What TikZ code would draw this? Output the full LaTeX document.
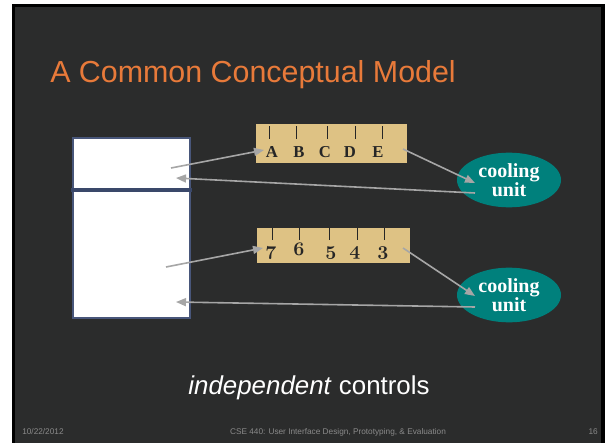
\documentclass[tikz,border=0pt]{standalone}
\usepackage{fontspec}
\newfontfamily\slidesans{Liberation Sans}
\newfontfamily\slideserif{Liberation Serif}
\usetikzlibrary{arrows.meta,shapes.geometric}
\definecolor{slidebg}{RGB}{43,44,44}
\definecolor{titleorange}{RGB}{232,122,58}
\definecolor{dialtan}{RGB}{222,194,132}
\definecolor{coolteal}{RGB}{0,128,124}
\definecolor{fridgeblue}{RGB}{72,86,122}
\definecolor{dividerblue}{RGB}{58,72,106}
\definecolor{linkgray}{RGB}{166,166,166}
\definecolor{footgray}{RGB}{138,138,138}
\tikzset{
  link/.style={draw=linkgray, line width=1.2pt, -{Triangle[length=7.5pt,width=6pt]}},
  dial/.style={fill=dialtan, draw=none, inner sep=0pt},
  tick/.style={draw=black!85, line width=0.75pt},
  dialtext/.style={anchor=base, inner sep=0pt, text=black!85, font=\slideserif\bfseries\fontsize{12.5}{12.5}\selectfont},
  dialnum/.style={anchor=base, inner sep=0pt, text=black!85, font=\usefont{OML}{cmm}{b}{it}\fontsize{15}{15}\selectfont},
  cooler/.style={ellipse, fill=coolteal, minimum width=78pt, minimum height=41pt, inner sep=0pt,
    align=center, text=white, font=\slideserif\bfseries\fontsize{15}{14.6}\selectfont},
  foot/.style={anchor=base, inner sep=0pt, text=footgray, font=\slidesans\fontsize{6.2}{7}\selectfont}
}
\begin{document}
\begin{tikzpicture}[x=0.75pt,y=0.75pt,yscale=-1,xscale=1]
\useasboundingbox (0,0) rectangle (608,443);
% slide frame
\fill[white] (0,0) rectangle (608,443);
\fill[black] (12,4) rectangle (605,443);
\fill[slidebg] (15,7) rectangle (601,443);
% Title
\node[anchor=base west, inner sep=0pt, text=titleorange, font=\slidesans\fontsize{22.8}{26}\selectfont] (title) at (50,82) {A Common Conceptual Model};
% Fridge body and freezer divider
\draw[fill=white, draw=fridgeblue, line width=1.2pt] (73,138) rectangle (190,318);
\draw[dividerblue, line width=2.4pt] (71,190) -- (192,190);
\coordinate (freezerout) at (171,168);
\coordinate (freezerin) at (176,178);
\coordinate (fridgeout) at (166,267);
\coordinate (fridgein) at (176,302);
% Dial with letters
\node[dial, minimum width=113.25pt, minimum height=29.25pt] (letters) at (331.5,143.5) {};
\foreach \tx in {269,296,327,355,382}
  \draw[tick] (\tx,126) -- (\tx,139);
\foreach \tx/\lab in {272/A,299/B,325/C,350/D,378/E}
  \node[dialtext] (let\lab) at (\tx,157) {\lab};
\coordinate (lettersin) at (264,150);
\coordinate (lettersout) at (403,149);
% Dial with numbers
\node[dial, minimum width=114.75pt, minimum height=26.25pt] (numbers) at (333,245.5) {};
\foreach \tx in {272,299,329,357,384}
  \draw[tick] (\tx,228) -- (\tx,240);
\node[dialnum] (num7) at (271,255) {7};
\node[dialnum] (num6) at (299,255) {6};
\node[dialnum] (num5) at (331,255) {5};
\node[dialnum] (num4) at (355,255) {4};
\node[dialnum] (num3) at (383,255) {3};
\coordinate (numbersin) at (263,248);
\coordinate (numbersout) at (403,248);
% Cooling units
\node[cooler] (coolone) at (509,180) {cooling\\unit};
\node[cooler] (cooltwo) at (509,295) {cooling\\unit};
\coordinate (cooloneout) at (475,193);
\coordinate (cooltwoout) at (475,307);
\coordinate (cooloneIn) at (475,183);
\coordinate (cooltwoIn) at (475,296);
% Links
\draw[link] (freezerout) -- (lettersin);
\draw[link] (lettersout) -- (cooloneIn);
\draw[link] (cooloneout) -- (freezerin);
\draw[link] (fridgeout) -- (numbersin);
\draw[link] (numbersout) -- (cooltwoIn);
\draw[link] (cooltwoout) -- (fridgein);
% Caption
\node[anchor=base, inner sep=0pt, text=white, font=\slidesans\fontsize{19.4}{22}\selectfont] (caption) at (309,394) {\textit{independent} controls};
% Footer
\node[foot, anchor=base west] (date) at (22,434) {10/22/2012};
\node[foot] (course) at (338,434) {CSE 440: User Interface Design, Prototyping, \& Evaluation};
\node[foot, anchor=base east] (page) at (598,434) {16};
\end{tikzpicture}
\end{document}
